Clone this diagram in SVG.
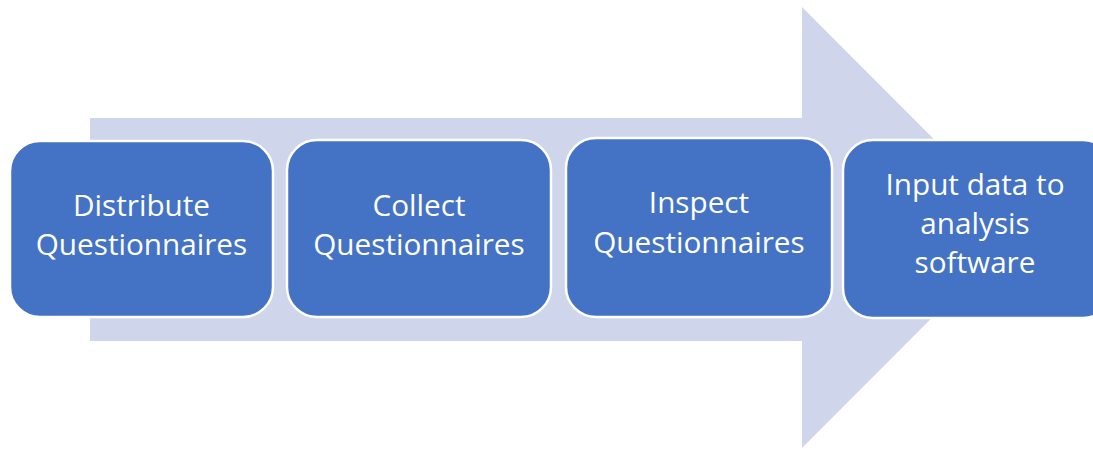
<svg xmlns="http://www.w3.org/2000/svg" width="1093" height="449" viewBox="0 0 1093 449">
<style>
.box{fill:#4472C4;stroke:#FFFFFF;stroke-width:2.5}
.t{font-family:"Open Sans","Liberation Sans",sans-serif;font-size:29.7px;fill:#FFFFFF;text-anchor:middle}
</style>
<rect width="1093" height="449" fill="#FFFFFF"/>
<g id="arrow">
<polygon points="90,118 802,118 802,7 1022,227.5 802,448 802,341 90,341" fill="#CFD5EA"/>
</g>
<g id="node1">
<rect class="box" x="10" y="141" width="263" height="176" rx="30"/>
<text class="t" x="141.5" y="216">Distribute</text>
<text class="t" x="141.5" y="255">Questionnaires</text>
</g>
<g id="node2">
<rect class="box" x="287" y="140" width="264" height="177" rx="30"/>
<text class="t" x="419" y="216">Collect</text>
<text class="t" x="419" y="255">Questionnaires</text>
</g>
<g id="node3">
<rect class="box" x="566" y="138" width="266" height="179" rx="30"/>
<text class="t" x="699" y="213">Inspect</text>
<text class="t" x="699" y="253">Questionnaires</text>
</g>
<g id="node4">
<rect class="box" x="843" y="140" width="270" height="178" rx="30"/>
<text class="t" x="975" y="195">Input data to</text>
<text class="t" x="975" y="234">analysis</text>
<text class="t" x="975" y="273">software</text>
</g>
<g id="connectors"></g>
</svg>
